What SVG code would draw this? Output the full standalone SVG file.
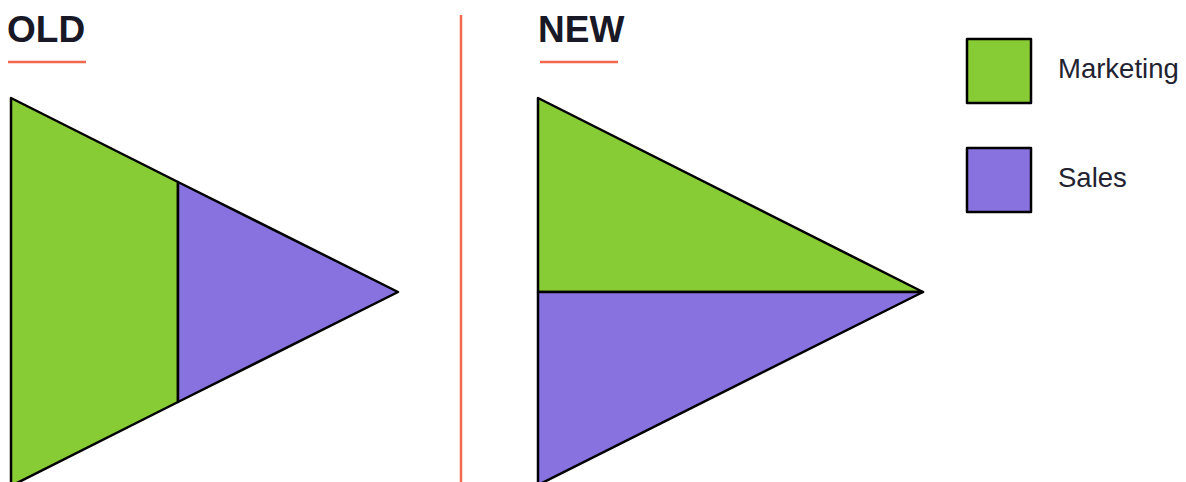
<svg xmlns="http://www.w3.org/2000/svg" width="1186" height="482" viewBox="0 0 1186 482">
<style>
.title{font-family:"Liberation Sans",Arial,sans-serif;font-weight:bold;font-size:37px;fill:#181826}
.lbl{font-family:"Liberation Sans",Arial,sans-serif;font-size:27.5px;fill:#222230}
.rule{stroke:#F2694E;stroke-width:2.5}
.mk{fill:#87CB35;stroke:#000;stroke-width:2.5;stroke-linejoin:round}
.sl{fill:#8872E0;stroke:#000;stroke-width:2.5;stroke-linejoin:round}
</style>
<rect width="1186" height="482" fill="#fff"/>
<g id="old">
<text class="title" x="7" y="42">OLD</text>
<line class="rule" x1="8" y1="62" x2="86" y2="62"/>
<polygon class="mk" points="11,98 178,182 178,402 11,486"/>
<polygon class="sl" points="178,182 398,292 178,402"/>
</g>
<line id="divider" class="rule" x1="461" y1="15" x2="461" y2="482"/>
<g id="new">
<text class="title" x="538" y="42">NEW</text>
<line class="rule" x1="540" y1="62" x2="618" y2="62"/>
<polygon class="mk" points="538,98 923,292 538,292"/>
<polygon class="sl" points="538,292 923,292 538,485"/>
</g>
<g id="legend-marketing">
<rect class="mk" x="967" y="39" width="64" height="64"/>
<text class="lbl" x="1058" y="78">Marketing</text>
</g>
<g id="legend-sales">
<rect class="sl" x="967" y="148" width="64" height="64"/>
<text class="lbl" x="1058" y="187">Sales</text>
</g>
</svg>
